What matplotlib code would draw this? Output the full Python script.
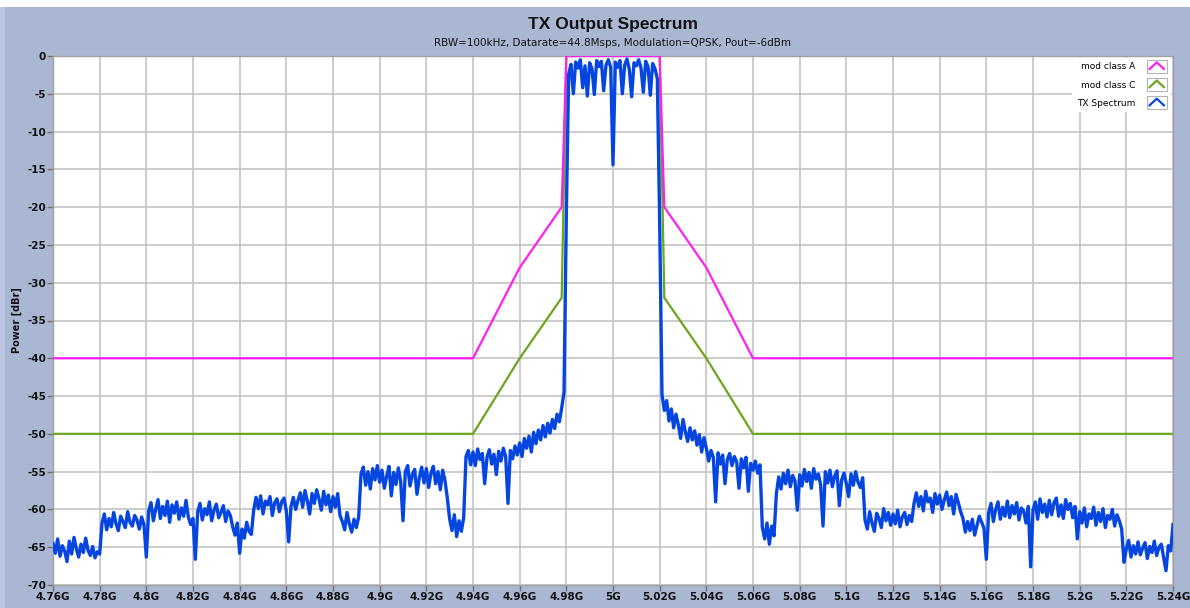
"""TX Output Spectrum with spectral emission masks"""
import numpy as np
import matplotlib
matplotlib.use("Agg")
import matplotlib.pyplot as plt
from matplotlib.lines import Line2D
from matplotlib.patches import Rectangle
from matplotlib.legend_handler import HandlerBase

# spectrum: one value per MHz, 4.760G .. 5.240G (one row = 20 MHz)
freq_start = 4.76
freq_step = 0.001
tx_power = [
    -64.5, -65.8, -63.9, -66.2, -64.8, -65.5, -66.9, -64.2, -65.9, -63.7, -65.2, -66.3, -64.6, -65.7, -63.8, -65.4, -66.1, -64.9, -66.4, -65.6,
    -65.9, -61.8, -60.6, -62.7, -61.2, -62.3, -60.4, -61.9, -62.8, -60.9, -61.6, -62.4, -60.3, -61.7, -62.2, -60.8, -61.4, -62.6, -61.0, -62.1,
    -66.3, -60.2, -59.1, -61.5, -60.0, -58.7, -61.2, -59.6, -60.8, -58.9, -61.7, -59.4, -60.5, -59.0, -61.3, -59.8, -60.9, -58.8, -61.0, -62.0,
    -61.2, -66.6, -60.3, -59.2, -61.4, -59.9, -60.7, -59.0, -61.5, -60.1, -59.3, -61.1, -60.4, -59.5, -61.6, -60.2, -60.8, -62.3, -63.4, -61.8,
    -65.8, -62.6, -63.8, -61.7, -62.9, -63.3, -60.1, -58.4, -59.9, -58.2, -60.6, -58.9, -59.4, -58.3, -60.8, -59.1, -58.6, -60.3, -59.0, -58.5,
    -60.2, -64.3, -59.6, -58.4, -60.0, -58.8, -57.8, -59.7, -57.5, -58.9, -60.6, -57.9, -59.2, -57.4, -58.6, -60.1, -57.6, -59.4, -58.1, -60.3,
    -58.3, -59.7, -57.9, -60.8, -61.6, -62.7, -60.4, -61.9, -63.0, -61.3, -62.4, -61.0, -55.3, -54.4, -56.8, -55.0, -57.3, -54.6, -56.1, -54.2,
    -56.4, -54.8, -57.2, -55.6, -54.3, -58.2, -55.1, -56.7, -54.5, -56.3, -61.5, -55.0, -54.2, -56.9, -55.4, -54.7, -58.0, -55.8, -54.4, -56.5,
    -54.6, -57.1, -55.2, -54.3, -56.6, -55.0, -57.4, -54.8, -56.2, -58.5, -61.3, -62.8, -60.7, -63.6, -61.5, -62.9, -61.1, -53.0, -52.2, -54.1,
    -52.4, -54.2, -52.0, -53.4, -52.6, -56.6, -53.1, -52.1, -54.0, -52.7, -55.4, -52.3, -53.6, -51.9, -53.0, -59.2, -52.2, -53.3, -51.6, -52.8,
    -51.2, -53.0, -50.6, -51.9, -50.3, -52.4, -49.8, -51.3, -49.5, -50.8, -48.9, -50.4, -48.6, -49.9, -48.1, -49.3, -47.4, -48.4, -46.6, -44.5,
    -21.0, -2.4, -1.1, -5.0, -0.8, -1.6, -0.5, -4.2, -1.3, -5.3, -0.9, -1.7, -5.1, -0.6, -1.4, -0.7, -4.6, -1.2, -0.5, -1.5,
    -14.4, -0.8, -1.5, -0.6, -5.0, -1.2, -0.4, -1.8, -5.4, -0.9, -1.3, -0.5, -1.6, -4.8, -0.7, -1.4, -5.2, -1.0, -1.7, -3.0,
    -22.0, -44.8, -46.9, -45.6, -48.3, -46.7, -49.2, -47.4, -48.8, -50.6, -48.1, -49.7, -51.0, -49.2, -50.8, -49.6, -51.5, -50.1, -52.4, -50.5,
    -51.9, -53.6, -52.2, -53.1, -59.0, -52.5, -54.0, -52.8, -56.6, -53.4, -52.6, -54.2, -53.0, -53.7, -57.2, -53.3, -54.5, -53.1, -57.6, -53.9,
    -54.8, -53.6, -55.2, -54.1, -62.4, -63.9, -61.8, -64.6, -62.2, -63.5, -58.0, -55.7, -57.3, -55.2, -56.6, -54.8, -57.0, -55.5, -56.2, -60.1,
    -55.4, -56.9, -54.7, -56.3, -55.1, -57.2, -54.6, -56.0, -55.3, -56.8, -62.2, -55.0, -56.5, -54.8, -57.0, -55.6, -54.9, -59.5, -56.1, -55.2,
    -56.6, -58.3, -55.3, -56.8, -55.0, -56.4, -57.1, -55.8, -61.4, -62.6, -60.3, -61.8, -62.9, -60.5, -61.2, -62.4, -59.9, -61.5, -60.4, -62.1,
    -60.6, -61.9, -60.1, -62.3, -61.0, -60.4, -62.0, -60.8, -61.6, -59.2, -57.8, -59.6, -58.3, -60.2, -57.6, -59.0, -58.5, -60.4, -57.9, -59.3,
    -58.1, -60.0, -58.7, -57.7, -59.5, -58.3, -60.6, -58.0, -59.1, -60.3, -61.2, -63.0, -61.6, -62.8, -61.3, -63.4, -62.1, -60.9, -61.7, -62.5,
    -66.6, -60.4, -59.2, -61.6, -60.0, -59.0, -61.3, -59.7, -60.9, -58.9, -61.1, -59.5, -60.6, -59.1, -61.4, -59.8, -60.2, -61.8, -59.6, -67.6,
    -60.1, -59.0, -61.3, -58.6, -60.4, -59.3, -61.0, -58.8, -60.7, -59.1, -58.5, -60.9, -59.4, -61.2, -58.7, -60.0, -59.2, -61.1, -59.6, -63.9,
    -60.3, -61.8, -59.8, -62.3, -60.6, -61.2, -59.7, -62.1, -60.4, -61.6, -59.9, -62.4, -60.8, -61.3, -60.0, -62.2, -60.7, -61.5, -62.6, -67.0,
    -65.2, -64.1, -66.3, -64.8, -65.9, -64.3, -66.0, -65.1, -64.4, -66.5, -64.9, -65.7, -64.2, -66.1, -65.0, -64.6, -66.4, -68.1, -64.8, -65.5,
    -62.0,
]

# emission masks (frequency in GHz, level in dBr)
mask_a_freq = [4.76, 4.94, 4.96, 4.978, 4.98, 5.02, 5.022, 5.04, 5.06, 5.24]
mask_a_level = [-40, -40, -28, -20, 0, 0, -20, -28, -40, -40]
mask_c_freq = [4.76, 4.94, 4.96, 4.978, 4.98, 5.02, 5.022, 5.04, 5.06, 5.24]
mask_c_level = [-50, -50, -40, -32, 0, 0, -32, -40, -50, -50]

x_ticks = [round(4.76 + 0.02 * i, 2) for i in range(25)]
y_ticks = [0, -5, -10, -15, -20, -25, -30, -35, -40, -45, -50, -55, -60, -65, -70]

tx_freq = freq_start + freq_step * np.arange(len(tx_power))


class ChevronHandler(HandlerBase):
    def create_artists(self, legend, orig_handle, xdescent, ydescent,
                       width, height, fontsize, trans):
        x0, y0 = -xdescent, -ydescent
        box = Rectangle((x0, y0 - 2), width, height + 4, facecolor="white",
                        edgecolor="#b4b4b4", lw=0.8, transform=trans)
        chev = Line2D([x0 + 2, x0 + width / 2, x0 + width - 2],
                      [y0 + 1, y0 + height, y0 + 1],
                      color=orig_handle.get_color(), lw=1.6, transform=trans)
        return [box, chev]


fig = plt.figure(figsize=(11.9, 6.08), dpi=100, facecolor="#aab7d2")
fig.patches.append(Rectangle((0, 1 - 7 / 608), 1, 7 / 608, transform=fig.transFigure,
                             facecolor="white", edgecolor="none"))
fig.patches.append(Rectangle((0, 0), 5 / 1190, 1 - 7 / 608, transform=fig.transFigure,
                             facecolor="#bcc8e4", edgecolor="none"))

ax = fig.add_axes([53 / 1190, 1 - 585 / 608, 1120 / 1190, 529 / 608])
ax.set_facecolor("white")

l_c, = ax.plot(mask_c_freq, mask_c_level, color="#6aa61e", lw=1.6, label="mod class C", zorder=3)
l_a, = ax.plot(mask_a_freq, mask_a_level, color="#ff1ff0", lw=1.6, label="mod class A", zorder=4)
l_tx, = ax.plot(tx_freq, tx_power, color="#0545e0", lw=2.4, label="TX Spectrum", zorder=5)

ax.set_xlim(4.76, 5.24)
ax.set_ylim(-70, 0)
ax.set_xticks(x_ticks)
ax.set_xticklabels([f"{v:g}G" for v in x_ticks])
ax.set_yticks(y_ticks)
ax.set_yticklabels([str(v) for v in y_ticks])
ax.tick_params(direction="out", length=4, width=1, color="#707070",
               labelsize=7.5, labelcolor="#111111", pad=1)
for lab in ax.get_xticklabels() + ax.get_yticklabels():
    lab.set_fontweight("bold")
ax.grid(True, color="#c4c4c4", lw=1.2)
ax.set_axisbelow(True)
for s in ax.spines.values():
    s.set_color("#a0a0a0")
    s.set_linewidth(1)

ax.set_ylabel("Power [dBr]", fontsize=7, fontweight="bold", color="#111111")
ax.yaxis.set_label_coords(-0.028, 0.5)

fig.text(613 / 1190, 1 - 24 / 608, "TX Output Spectrum", ha="center", va="center",
         fontsize=12.5, fontweight="bold", color="#111111", family="Liberation Sans")
fig.text(613 / 1190, 1 - 43 / 608,
         "RBW=100kHz, Datarate=44.8Msps, Modulation=QPSK, Pout=-6dBm",
         ha="center", va="center", fontsize=7.5, color="#111111")

leg = ax.legend(handles=[l_a, l_c, l_tx], loc="upper right", markerfirst=False,
                handler_map={Line2D: ChevronHandler()}, fontsize=6.5,
                frameon=True, fancybox=False, framealpha=1, facecolor="white",
                edgecolor="none", handlelength=2.2, handleheight=1.0,
                handletextpad=1.3, labelspacing=1.0, borderaxespad=0.2,
                borderpad=0.5)
leg.set_zorder(10)

fig.savefig("out.png", dpi=100, facecolor=fig.get_facecolor())
